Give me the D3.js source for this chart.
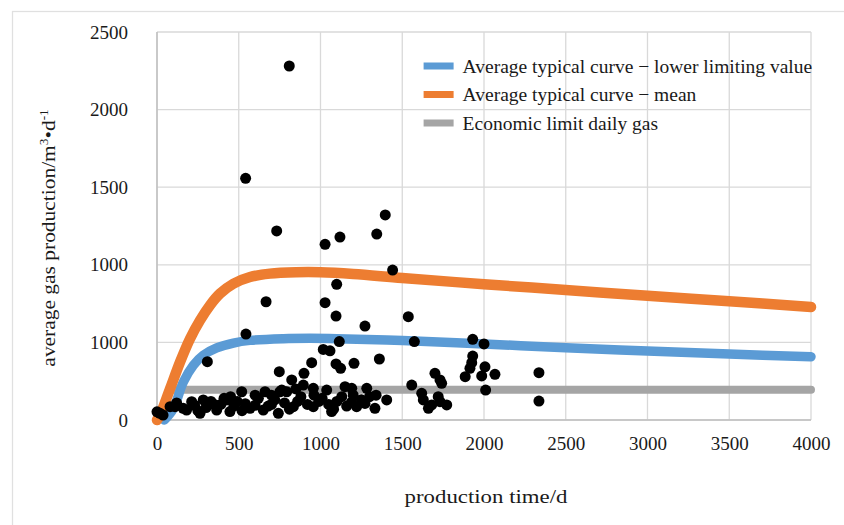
<!DOCTYPE html>
<html>
<head>
<meta charset="utf-8">
<script src="https://cdn.jsdelivr.net/npm/d3@7/dist/d3.min.js"></script>
<style>
  body { margin: 0; background: #fff; }
  text { font-family: "Liberation Serif", "Times New Roman", serif; fill: #1a1a1a; }
  .grid line { stroke: #d9d9d9; stroke-width: 1.3; }
  .axis path, .axis line { display: none; }
</style>
</head>
<body>
<div id="chart"></div>
<script>
// ---- data ----
var xTicks = [0, 500, 1000, 1500, 2000, 2500, 3000, 3500, 4000];
var yTicks = [0, 500, 1000, 1500, 2000, 2500];
var yTickLabels = ["0", "1000", "1000", "1500", "2000", "2500"];

var seriesNames = ["Average typical curve \u2212 lower limiting value", "Average typical curve \u2212 mean", "Economic limit daily gas"];
var seriesColors = ["#5b9bd5", "#ed7d31", "#a5a5a5"];

// [day, m3/d]
var lowerCurve = [[45,0],[100,73],[161,245],[222,352],[283,417],[365,464],[467,496],[569,513],[773,524],[936,526],[1100,524],[1500,512],[2000,490],[2500,465],[3000,445],[3500,425],[4000,408]];
var meanCurve = [[0,0],[18,30],[80,202],[141,374],[202,524],[263,642],[324,739],[385,814],[467,878],[569,921],[691,943],[850,952],[1000,952],[1200,941],[1500,915],[2000,875],[2500,838],[3000,800],[3500,765],[4000,728]];
var limitLine = [[90,195],[4000,195]];

var wellDays = [809,542,732,1028,1119,1344,1396,1441,1099,667,1028,1095,1537,1272,544,1115,1574,1017,1058,308,946,1205,1360,1095,1123,748,899,824,895,661,763,956,1038,1150,1191,518,
  1931,2000,1931,1925,1914,2006,2067,1885,1986,2010,2336,2336,1700,1731,1741,1558,1619,1629,1660,1720,1731,1772,1680,1405,1333,1272,1283,
  0,37,80,18,110,212,283,426,752,793,181,263,365,446,569,650,742,834,956,1068,1221,
  120,230,300,330,390,410,470,490,540,600,620,700,720,780,810,860,880,920,990,1010,1050,1100,1130,1160,1190,1250,1300,1340,850,700,600,450,960,1200,160,250,350,520,680,1080];
var wellGas = [2281,1557,1218,1132,1179,1198,1321,966,874,762,756,670,666,605,554,505,505,455,446,376,369,365,393,361,333,311,301,258,225,182,193,204,193,215,204,182,
  520,490,412,369,333,343,294,279,284,193,305,122,301,258,236,225,172,129,75,150,118,97,97,129,75,107,204,
  53,32,86,43,86,118,129,129,182,182,64,43,64,54,75,64,43,86,86,54,86,
  110,95,80,120,100,140,90,120,105,95,140,100,130,110,70,120,150,100,120,140,100,120,150,90,115,130,150,160,200,160,160,150,160,160,75,60,100,60,90,70];

var margin = {top: 32, right: 33, bottom: 105, left: 157},
    width = 844 - margin.left - margin.right,
    height = 525 - margin.top - margin.bottom;

var x = d3.scaleLinear().domain([0, 4000]).range([0, width]);
var y = d3.scaleLinear().domain([0, 2500]).range([height, 0]);

var root = d3.select("#chart").append("svg")
    .attr("width", 844)
    .attr("height", 525);

// light frame of the figure
root.append("rect")
    .attr("x", 12.5).attr("y", 11.5)
    .attr("width", 900).attr("height", 600)
    .style("fill", "none")
    .style("stroke", "#e0e0e0")
    .style("stroke-width", 1.3);

var svg = root.append("g")
    .attr("transform", "translate(" + margin.left + "," + margin.top + ")");

// gridlines
svg.append("g").attr("class", "grid")
  .selectAll("line.h").data(yTicks).enter().append("line")
    .attr("x1", 0).attr("x2", width)
    .attr("y1", function(d) { return y(d); })
    .attr("y2", function(d) { return y(d); });

svg.append("g").attr("class", "grid")
  .selectAll("line.v").data(xTicks).enter().append("line")
    .attr("y1", 0).attr("y2", height)
    .attr("x1", function(d) { return x(d); })
    .attr("x2", function(d) { return x(d); });

// axis lines
svg.append("line")
    .attr("x1", 0).attr("x2", 0).attr("y1", 0).attr("y2", height)
    .style("stroke", "#bfbfbf").style("stroke-width", 1.5);
svg.append("line")
    .attr("x1", 0).attr("x2", width).attr("y1", height).attr("y2", height)
    .style("stroke", "#bfbfbf").style("stroke-width", 1.5);

// tick labels
svg.append("g")
    .attr("class", "axis")
    .attr("transform", "translate(0," + height + ")")
    .call(d3.axisBottom(x).tickValues(xTicks).tickSize(0).tickPadding(17)
      .tickFormat(function(d) { return d; }))
  .selectAll("text")
    .style("font-size", "19px");

svg.append("g")
    .attr("class", "axis")
    .call(d3.axisLeft(y).tickValues(yTicks).tickSize(0).tickPadding(29)
      .tickFormat(function(d, i) { return yTickLabels[i]; }))
  .selectAll("text")
    .style("font-size", "19px");

// axis titles (the source picture is a little stretched sideways)
svg.append("text")
    .attr("transform", "translate(" + (x(2000) + 2) + "," + (height + 83) + ") scale(1.17,1)")
    .attr("text-anchor", "middle")
    .style("font-size", "19.5px")
    .text("production time/d");

var yTitle = svg.append("text")
    .attr("transform", "translate(" + (-102) + "," + (height / 2 + 12) + ") rotate(-90) scale(1.1,1)")
    .attr("text-anchor", "middle")
    .style("font-size", "19.5px");
yTitle.append("tspan").text("average gas production/m");
yTitle.append("tspan").attr("dy", -7).style("font-size", "12px").text("3");
yTitle.append("tspan").attr("dy", 7).text("\u2022d");
yTitle.append("tspan").attr("dy", -7).style("font-size", "12px").text("-1");

// curves
var line = d3.line()
    .curve(d3.curveCatmullRom.alpha(0.5))
    .x(function(d) { return x(d[0]); })
    .y(function(d) { return y(d[1]); });

[limitLine, lowerCurve, meanCurve].forEach(function(s, i) {
  var idx = [2, 0, 1][i];
  svg.append("path")
      .datum(s)
      .attr("d", line)
      .style("fill", "none")
      .style("stroke", seriesColors[idx])
      .style("stroke-width", [8, 9.5, 10.5][i])
      .style("stroke-linecap", "round")
      .style("stroke-linejoin", "round");
});

// wells
svg.selectAll(".dot")
    .data(d3.range(wellDays.length))
  .enter().append("circle")
    .attr("class", "dot")
    .attr("r", 5.5)
    .attr("cx", function(i) { return x(wellDays[i]); })
    .attr("cy", function(i) { return y(wellGas[i]); })
    .style("fill", "#000");

// legend
var legend = svg.append("g")
    .attr("transform", "translate(" + (x(1600) + 5) + "," + 34 + ")");

var items = legend.selectAll("g")
    .data(seriesNames)
  .enter().append("g")
    .attr("transform", function(d, i) { return "translate(0," + i * 28.5 + ")"; });

items.append("rect")
    .attr("x", 0).attr("y", -3.5)
    .attr("width", 30).attr("height", 7)
    .style("fill", function(d, i) { return seriesColors[i]; });

items.append("text")
    .attr("x", 39)
    .attr("dy", "0.35em")
    .style("font-size", "19.5px")
    .text(function(d) { return d; });
</script>
</body>
</html>
